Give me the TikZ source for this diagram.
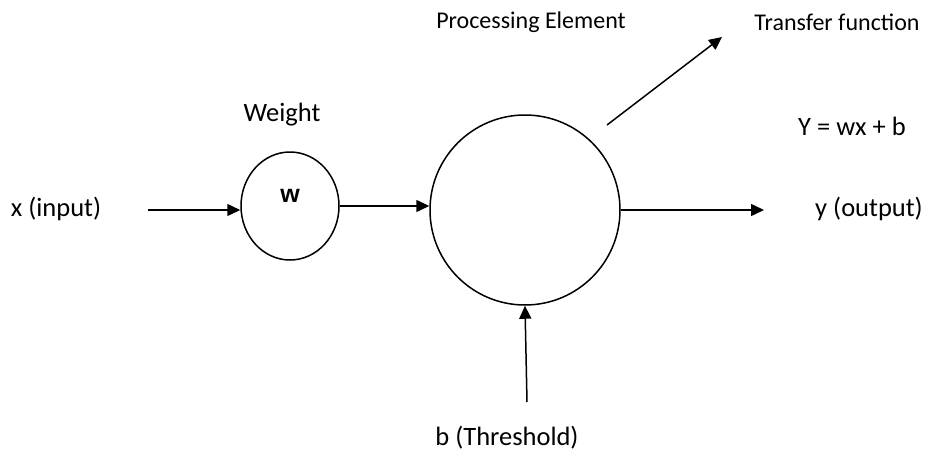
\documentclass[tikz,border=0pt]{standalone}
\usepackage{fontspec}
\setmainfont{Carlito}
\newfontfamily\wfont{Liberation Sans}
\usetikzlibrary{arrows.meta,shapes.geometric}
\begin{document}
\begin{tikzpicture}[x=1pt,y=-1pt,
  line width=1.5pt,
  arrow/.style={-{Triangle[length=13pt,width=12pt]}},
  lbl/.style={font=\fontsize{26.5}{30}\selectfont, inner sep=0pt},
  small/.style={font=\fontsize{24}{28}\selectfont, inner sep=0pt},
  unit/.style={draw, ellipse, minimum width=98pt, minimum height=108pt, inner sep=0pt}]
\useasboundingbox (0,0) rectangle (927,455);
% weight and processing element
\node[unit] (w) at (290,206) {};
\node[font=\wfont\fontsize{25}{28}\selectfont\bfseries, inner sep=0pt] (wl) at (290,196) {w};
\node[draw, circle, minimum size=190pt, inner sep=0pt] (pe) at (525,210) {};
% labels
\node[lbl] (x) at (56,209) {x (input)};
\node[lbl] (weight) at (282,115) {Weight};
\node[small] (pel) at (531,22) {Processing Element};
\node[small] (tf) at (837,22) {Transfer function};
\node[lbl] (eq) at (852,126) {Y = wx + b};
\node[lbl] (y) at (869,209) {y (output)};
\node[lbl] (b) at (507,438) {b (Threshold)};
% free ends of the connectors
\coordinate (xin) at (148,210);
\coordinate (yout) at (764,210);
\coordinate (bin) at (527,402);
\coordinate (tfs) at (607,125);
\coordinate (tfe) at (722,37);
% connectors
\draw[arrow] (xin) -- (w.west |- xin);
\draw[arrow] (w.east) -- (pe.west |- w.east);
\draw[arrow] (pe.east) -- (yout);
\draw[arrow] (bin) -- (pe.south);
\draw[arrow] (tfs) -- (tfe);
\end{tikzpicture}
\end{document}
